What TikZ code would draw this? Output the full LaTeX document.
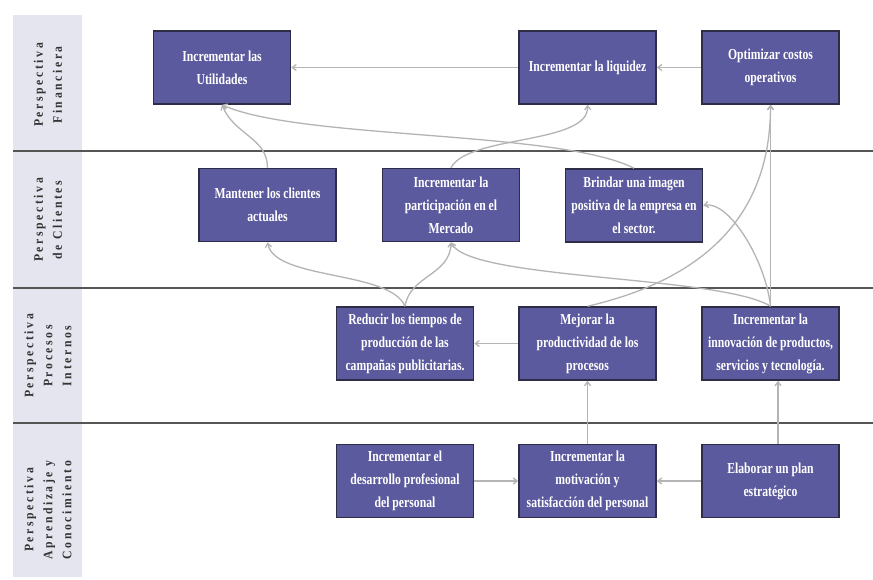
\documentclass[tikz,border=0pt]{standalone}
\usepackage{fontspec}
\setmainfont{Liberation Serif}
\newfontfamily\boxfont[FakeStretch=0.77]{Liberation Serif}
\newfontfamily\bandfont[LetterSpace=20,FakeStretch=0.9]{Liberation Serif}
\usetikzlibrary{arrows.meta}
\definecolor{boxfill}{RGB}{92,90,158}
\definecolor{boxline}{RGB}{45,45,72}
\definecolor{bandfill}{RGB}{229,229,239}
\definecolor{sepline}{RGB}{85,85,85}
\definecolor{conn}{RGB}{180,180,180}
\tikzset{
  goal/.style={draw=boxline, line width=1.5pt, fill=boxfill, text=white,
    minimum width=137pt, minimum height=73pt, inner sep=1pt, align=center,
    font=\boxfont\bfseries\fontsize{15.2}{23}\selectfont},
  bandlabel/.style={rotate=90, align=center, text=black!80,
    font=\bandfont\bfseries\fontsize{13}{19}\selectfont},
  link/.style={draw=conn, line width=1.3pt, -{Straight Barb[length=4pt,width=6pt]}},
  sep/.style={draw=sepline, line width=1.4pt}
}
\begin{document}
\begin{tikzpicture}[x=1pt,y=-1pt]
\useasboundingbox (0,0) rectangle (873,579);
\fill[white] (0,0) rectangle (873,579);
% band
\fill[bandfill] (13,15) rectangle (82,577);
\draw[sep] (13,151) -- (873,151);
\draw[sep] (13,288) -- (873,288);
\draw[sep] (13,423) -- (873,423);
\node[bandlabel] (l1) at (48,85) {Perspectiva\\Financiera};
\node[bandlabel] (l2) at (48,220) {Perspectiva\\de Clientes};
\node[bandlabel] (l3) at (48,356) {Perspectiva\\Procesos\\Internos};
\node[bandlabel] (l4) at (48,510) {Perspectiva\\Aprendizaje y\\Conocimiento};
% boxes
\node[goal] (util) at (222,67.5) {Incrementar las\\Utilidades};
\node[goal] (liq) at (587.5,67.5) {Incrementar la liquidez};
\node[goal] (opt) at (770.5,67.5) {Optimizar costos\\operativos};
\node[goal] (mant) at (267.5,205) {Mantener los clientes\\actuales};
\node[goal] (part) at (451,205) {Incrementar la\\participación en el\\Mercado};
\node[goal] (brin) at (634,205.5) {Brindar una imagen\\positiva de la empresa en\\el sector.};
\node[goal] (redu) at (405,343.5) {Reducir los tiempos de\\producción de las\\campañas publicitarias.};
\node[goal] (mejo) at (587.5,343.5) {Mejorar la\\productividad de los\\procesos};
\node[goal] (inno) at (770.5,343.5) {Incrementar la\\innovación de productos,\\servicios y tecnología.};
\node[goal] (desa) at (405,481) {Incrementar el\\desarrollo profesional\\del personal};
\node[goal] (moti) at (587.5,481) {Incrementar la\\motivación y\\satisfacción del personal};
\node[goal] (elab) at (770.5,481) {Elaborar un plan\\estratégico};
% straight links
\draw[link] (liq.west) -- (util.east);
\draw[link] (opt.west) -- (liq.east);
\draw[link] (mejo.west) -- (redu.east);
\draw[link] (desa.east) -- (moti.west);
\draw[link] (elab.west) -- (moti.east);
\draw[link] (moti.north) -- (mejo.south);
\draw[link] ([xshift=7.5pt]elab.north) -- ([xshift=7.5pt]inno.south);
\draw[link] (inno.north) -- (opt.south);
% curved links
\draw[link] (mant.north) .. controls +(0,-30) and +(12,30) .. (util.south);
\draw[link] (brin.north) .. controls +(-74,-38) and +(78,35) .. (util.south);
\draw[link] (part.north) .. controls +(17,-33) and +(2,40) .. (liq.south);
\draw[link] (mejo.north) .. controls +(112,-26) and +(0,115) .. (opt.south);
\draw[link] (inno.north) .. controls +(-5,-46) and +(26,-5) .. (brin.east);
\draw[link] (inno.north) .. controls +(-50,-31) and +(19,38) .. (part.south);
\draw[link] (redu.north) .. controls +(-15,-36) and +(7,38) .. (mant.south);
\draw[link] (redu.north) .. controls +(5,-31) and +(-1,33) .. (part.south);
\end{tikzpicture}
\end{document}
